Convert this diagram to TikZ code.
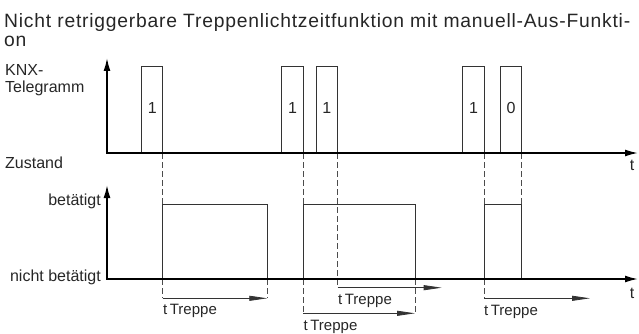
\documentclass[tikz,border=0pt]{standalone}
\usepackage{fontspec}
\setmainfont{Liberation Sans}
\newfontfamily\titlefont[LetterSpace=4]{Liberation Sans}
\usetikzlibrary{arrows.meta}

\begin{document}
\begin{tikzpicture}[x=1pt,y=-1pt]
                \tikzstyle{axisline} = [line width=1.6pt, -{Latex[length=13pt,width=7pt]}]
                \tikzstyle{pulse} = [line width=0.8pt, draw=black!80]
                \tikzstyle{guide} = [line width=0.8pt, draw=black!70, dash pattern=on 6pt off 3pt]
                \tikzstyle{tspan} = [line width=0.8pt, draw=black!80, -{Triangle[length=18pt,width=5pt]}]
                \tikzstyle{lbl} = [font=\fontsize{16}{19}\selectfont, inner sep=0pt, text=black!85]
                \tikzstyle{tlbl} = [lbl, font=\fontsize{15}{18}\selectfont, anchor=base west]
                \useasboundingbox (0,0) rectangle (639,334);
                \node[lbl, anchor=base west, font=\titlefont\fontsize{19.3}{22}\selectfont] (title1) at (4,27.3) {Nicht retriggerbare Treppenlichtzeitfunktion mit manuell-Aus-Funkti-};
                \node[lbl, anchor=base west, font=\titlefont\fontsize{19.3}{22}\selectfont] (title2) at (4,46.7) {on};
                \node[lbl, anchor=base west] (knx) at (5,76) {KNX-};
                \node[lbl, anchor=base west] (tele) at (5,92.7) {Telegramm};
                \node[lbl, anchor=base west] (zustand) at (5,168.3) {Zustand};
                \node[lbl, anchor=base east] (on) at (101,205.5) {betätigt};
                \node[lbl, anchor=base east] (off) at (101,281.5) {nicht betätigt};
                \node[lbl] (ttop) at (632,165) {t};
                \node[lbl] (tbot) at (632,293) {t};
                \draw[guide] (162.7,153) -- (162.7,298.3);
                \draw[guide] (303.3,153) -- (303.3,313.3);
                \draw[guide] (337.7,153) -- (337.7,287.7);
                \draw[guide] (484.3,153) -- (484.3,298.3);
                \draw[guide] (521.7,153) -- (521.7,204.3);
                \draw[guide] (267.3,279) -- (267.3,298.3);
                \draw[guide] (415,279) -- (415,313.3);
                \draw[pulse] (141.7,153) |- (162.7,66.7) -- (162.7,153);
                \draw[pulse] (281.7,153) |- (303.3,66.7) -- (303.3,153);
                \draw[pulse] (316,153) |- (337.7,66.7) -- (337.7,153);
                \draw[pulse] (462.7,153) |- (484.3,66.7) -- (484.3,153);
                \draw[pulse] (500.3,153) |- (521.7,66.7) -- (521.7,153);
                \node[lbl] (v1) at (152.2,107.5) {1};
                \node[lbl] (v2) at (292.5,107.5) {1};
                \node[lbl] (v3) at (326.8,107.5) {1};
                \node[lbl] (v4) at (473.5,107.5) {1};
                \node[lbl] (v5) at (511,107.5) {0};
                \draw[pulse] (162.7,279) |- (267.3,204.3) -- (267.3,279);
                \draw[pulse] (303.3,279) |- (415,204.3) -- (415,279);
                \draw[pulse] (484.3,279) |- (521.7,204.3) -- (521.7,279);
                \draw[tspan] (162.7,298.3) -- (267.3,298.3);
                \draw[tspan] (303.3,313.3) -- (415,313.3);
                \draw[tspan] (337.7,287.7) -- (441.7,287.7);
                \draw[tspan] (484.3,298.3) -- (590,298.3);
                \node[tlbl] (tr1) at (163,314) {t\,Treppe};
                \node[tlbl] (tr2) at (303.5,330.7) {t\,Treppe};
                \node[tlbl] (tr3) at (338,304) {t\,Treppe};
                \node[tlbl] (tr4) at (484,315) {t\,Treppe};
                \draw[axisline] (107,153) -- (107,58);
                \draw[axisline] (106.2,153) -- (638,153);
                \draw[axisline] (107,279) -- (107,185);
                \draw[axisline] (106.2,279) -- (638,279);
            \end{tikzpicture}
\end{document}
